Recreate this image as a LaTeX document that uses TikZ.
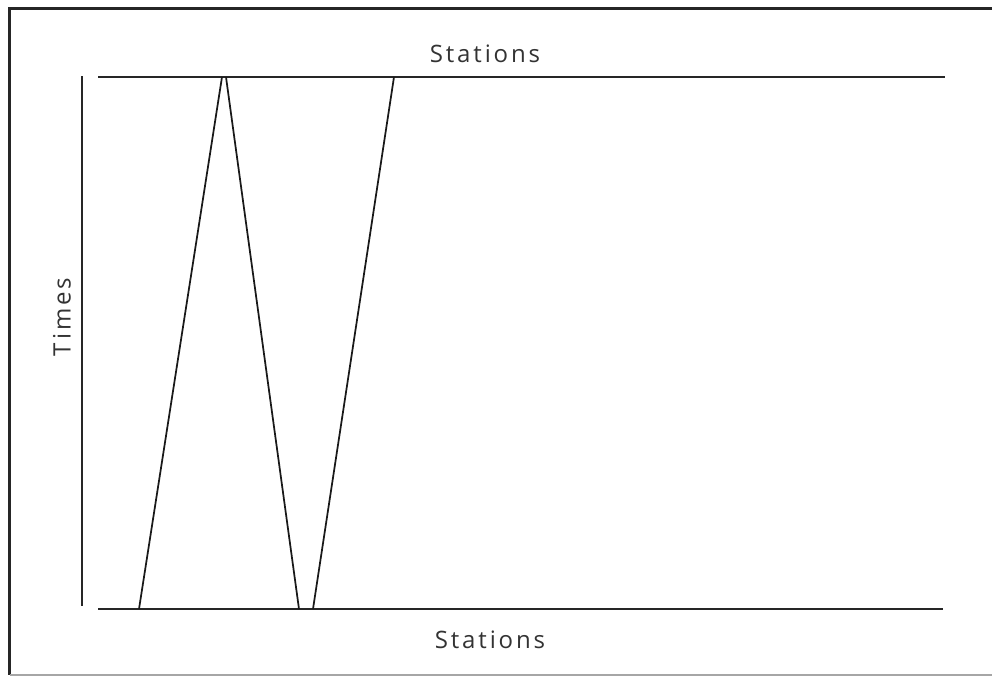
\documentclass[tikz,border=0pt]{standalone}
\usepackage{fontspec}
\setmainfont{Open Sans}[LetterSpace=12]
\begin{document}
\begin{tikzpicture}[x=0.75pt,y=-0.75pt,
  axis/.style={line width=1.3pt, draw=black!85},
  trail/.style={line width=1.3pt, draw=black!90},
  lbl/.style={font=\fontsize{18}{21}\selectfont, text=black!80, inner sep=0pt}]
\useasboundingbox (0,0) rectangle (992,676);
% frame
\draw[line width=1.6pt, draw=black!85] (992,8.5) -- (9.5,8.5) -- (9.5,675);
\draw[line width=1.2pt, draw=black!35] (9.5,675) -- (992,675);
% axes
\coordinate (tl) at (98,77);
\coordinate (tr) at (945,77);
\coordinate (bl) at (98,609);
\coordinate (br) at (943,609);
\coordinate (vt) at (82,76);
\coordinate (vb) at (82,606);
\draw[axis] (tl) -- (tr);
\draw[axis] (bl) -- (br);
\draw[axis] (vt) -- (vb);
% train paths
\coordinate (a0) at (139,609);
\coordinate (a1) at (222,77);
\coordinate (b0) at (226,77);
\coordinate (b1) at (299,609);
\coordinate (c0) at (313,609);
\coordinate (c1) at (394,77);
\draw[trail] (a0) -- (a1);
\draw[trail] (b0) -- (b1);
\draw[trail] (c0) -- (c1);
% labels
\node[lbl] (top) at (485,54) {Stations};
\node[lbl] (bot) at (490,640) {Stations};
\node[lbl, rotate=90] (times) at (62,317) {Times};
\end{tikzpicture}
\end{document}
